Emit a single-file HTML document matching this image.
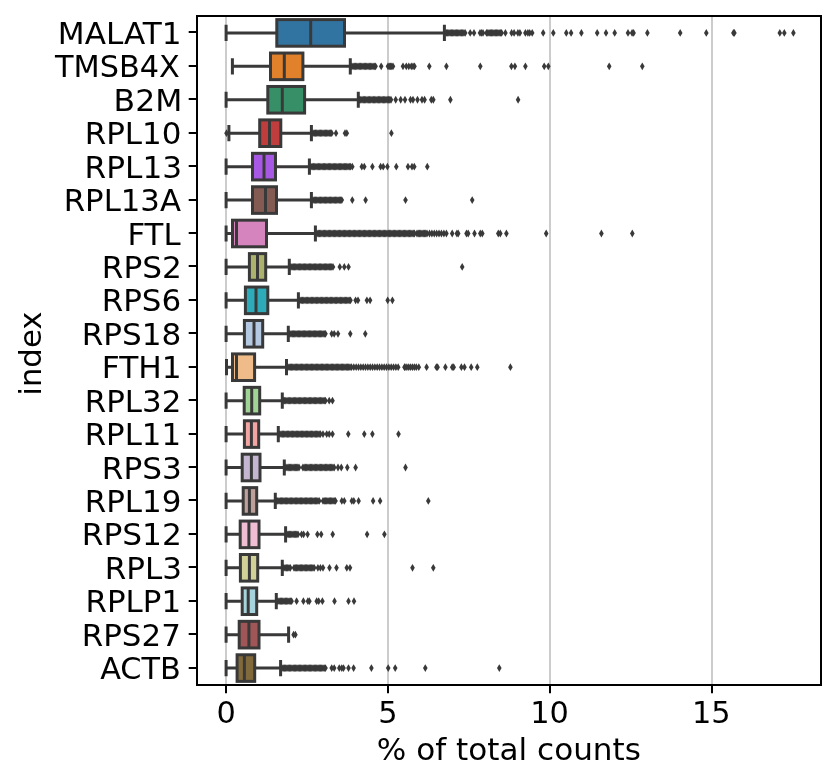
<!DOCTYPE html>
<html lang="en"><head><meta charset="utf-8"><title>highest expressed genes</title>
<style>html,body{margin:0;padding:0;background:#fff}svg{display:block}text{font-family:"DejaVu Sans","Liberation Sans",sans-serif;fill:#000}</style></head><body>
<svg width="837" height="783" viewBox="0 0 837 783">
<rect width="837" height="783" fill="#fff"/>
<defs><path id="d" d="M0,-3.9 L2.3,0 L0,3.9 L-2.3,0 Z"/></defs>
<g stroke="#cccccc" stroke-width="2">
<line x1="226" y1="16" x2="226" y2="685"/>
<line x1="388" y1="16" x2="388" y2="685"/>
<line x1="550" y1="16" x2="550" y2="685"/>
<line x1="712" y1="16" x2="712" y2="685"/>
</g>
<g stroke="#393939" stroke-width="3.0" fill="#393939">
<path fill="none" stroke-linecap="square" d="M226.1,32.91H276.8 M344.5,32.91H444.4 M226.1,26.31V39.51 M444.4,26.31V39.51"/>
<rect x="276.8" y="19.61" width="67.7" height="26.6" fill="#3274a1"/>
<path fill="none" stroke-linecap="square" d="M310.7,21.11V44.71"/>
</g>
<g fill="#393939"><use href="#d" x="446.4" y="32.91"/><use href="#d" x="447.65" y="32.91"/><use href="#d" x="448.91" y="32.91"/><use href="#d" x="450.16" y="32.91"/><use href="#d" x="451.41" y="32.91"/><use href="#d" x="452.67" y="32.91"/><use href="#d" x="453.92" y="32.91"/><use href="#d" x="455.17" y="32.91"/><use href="#d" x="456.43" y="32.91"/><use href="#d" x="457.68" y="32.91"/><use href="#d" x="458.93" y="32.91"/><use href="#d" x="460.19" y="32.91"/><use href="#d" x="461.44" y="32.91"/><use href="#d" x="462.69" y="32.91"/><use href="#d" x="463.95" y="32.91"/><use href="#d" x="465.2" y="32.91"/><use href="#d" x="470.2" y="32.91"/><use href="#d" x="474" y="32.91"/><use href="#d" x="480" y="32.91"/><use href="#d" x="481.5" y="32.91"/><use href="#d" x="483" y="32.91"/><use href="#d" x="486.5" y="32.91"/><use href="#d" x="487.76" y="32.91"/><use href="#d" x="489.02" y="32.91"/><use href="#d" x="490.27" y="32.91"/><use href="#d" x="491.53" y="32.91"/><use href="#d" x="492.79" y="32.91"/><use href="#d" x="494.05" y="32.91"/><use href="#d" x="495.31" y="32.91"/><use href="#d" x="496.57" y="32.91"/><use href="#d" x="497.83" y="32.91"/><use href="#d" x="499.08" y="32.91"/><use href="#d" x="500.34" y="32.91"/><use href="#d" x="501.6" y="32.91"/><use href="#d" x="505.4" y="32.91"/><use href="#d" x="511.6" y="32.91"/><use href="#d" x="514.1" y="32.91"/><use href="#d" x="517.9" y="32.91"/><use href="#d" x="519.9" y="32.91"/><use href="#d" x="525.4" y="32.91"/><use href="#d" x="527.9" y="32.91"/><use href="#d" x="529.7" y="32.91"/><use href="#d" x="532.2" y="32.91"/><use href="#d" x="543.2" y="32.91"/><use href="#d" x="553.3" y="32.91"/><use href="#d" x="566.3" y="32.91"/><use href="#d" x="571.1" y="32.91"/><use href="#d" x="581.4" y="32.91"/><use href="#d" x="597.2" y="32.91"/><use href="#d" x="606" y="32.91"/><use href="#d" x="614.7" y="32.91"/><use href="#d" x="628" y="32.91"/><use href="#d" x="632.1" y="32.91"/><use href="#d" x="633.6" y="32.91"/><use href="#d" x="647.4" y="32.91"/><use href="#d" x="680.2" y="32.91"/><use href="#d" x="706.3" y="32.91"/><use href="#d" x="733.4" y="32.91"/><use href="#d" x="734.4" y="32.91"/><use href="#d" x="779.8" y="32.91"/><use href="#d" x="784.3" y="32.91"/><use href="#d" x="793.4" y="32.91"/></g>
<g stroke="#393939" stroke-width="3.0" fill="#393939">
<path fill="none" stroke-linecap="square" d="M232.4,66.34H270.5 M302.9,66.34H350.3 M232.4,59.74V72.94 M350.3,59.74V72.94"/>
<rect x="270.5" y="53.04" width="32.4" height="26.6" fill="#e1812c"/>
<path fill="none" stroke-linecap="square" d="M284.3,54.54V78.14"/>
</g>
<g fill="#393939"><use href="#d" x="351.8" y="66.34"/><use href="#d" x="353.05" y="66.34"/><use href="#d" x="354.31" y="66.34"/><use href="#d" x="355.56" y="66.34"/><use href="#d" x="356.81" y="66.34"/><use href="#d" x="358.06" y="66.34"/><use href="#d" x="359.32" y="66.34"/><use href="#d" x="360.57" y="66.34"/><use href="#d" x="361.82" y="66.34"/><use href="#d" x="363.07" y="66.34"/><use href="#d" x="364.33" y="66.34"/><use href="#d" x="365.58" y="66.34"/><use href="#d" x="366.83" y="66.34"/><use href="#d" x="368.08" y="66.34"/><use href="#d" x="369.34" y="66.34"/><use href="#d" x="370.59" y="66.34"/><use href="#d" x="371.84" y="66.34"/><use href="#d" x="373.09" y="66.34"/><use href="#d" x="374.35" y="66.34"/><use href="#d" x="375.6" y="66.34"/><use href="#d" x="381.2" y="66.34"/><use href="#d" x="388" y="66.34"/><use href="#d" x="389.25" y="66.34"/><use href="#d" x="390.5" y="66.34"/><use href="#d" x="391.75" y="66.34"/><use href="#d" x="393" y="66.34"/><use href="#d" x="403" y="66.34"/><use href="#d" x="406.3" y="66.34"/><use href="#d" x="408.8" y="66.34"/><use href="#d" x="411.3" y="66.34"/><use href="#d" x="413" y="66.34"/><use href="#d" x="414.5" y="66.34"/><use href="#d" x="429.3" y="66.34"/><use href="#d" x="446.4" y="66.34"/><use href="#d" x="480.3" y="66.34"/><use href="#d" x="511.4" y="66.34"/><use href="#d" x="514.9" y="66.34"/><use href="#d" x="525.4" y="66.34"/><use href="#d" x="544.2" y="66.34"/><use href="#d" x="548.3" y="66.34"/><use href="#d" x="609.2" y="66.34"/><use href="#d" x="642.3" y="66.34"/></g>
<g stroke="#393939" stroke-width="3.0" fill="#393939">
<path fill="none" stroke-linecap="square" d="M226.1,99.77H267.8 M304.6,99.77H358.3 M226.1,93.17V106.37 M358.3,93.17V106.37"/>
<rect x="267.8" y="86.47" width="36.8" height="26.6" fill="#368f67"/>
<path fill="none" stroke-linecap="square" d="M282.3,87.97V111.57"/>
</g>
<g fill="#393939"><use href="#d" x="359.5" y="99.77"/><use href="#d" x="360.76" y="99.77"/><use href="#d" x="362.02" y="99.77"/><use href="#d" x="363.28" y="99.77"/><use href="#d" x="364.54" y="99.77"/><use href="#d" x="365.8" y="99.77"/><use href="#d" x="367.06" y="99.77"/><use href="#d" x="368.32" y="99.77"/><use href="#d" x="369.58" y="99.77"/><use href="#d" x="370.84" y="99.77"/><use href="#d" x="372.1" y="99.77"/><use href="#d" x="373.36" y="99.77"/><use href="#d" x="374.62" y="99.77"/><use href="#d" x="375.88" y="99.77"/><use href="#d" x="377.14" y="99.77"/><use href="#d" x="378.4" y="99.77"/><use href="#d" x="379.66" y="99.77"/><use href="#d" x="380.92" y="99.77"/><use href="#d" x="382.18" y="99.77"/><use href="#d" x="383.44" y="99.77"/><use href="#d" x="384.7" y="99.77"/><use href="#d" x="385.96" y="99.77"/><use href="#d" x="387.22" y="99.77"/><use href="#d" x="388.48" y="99.77"/><use href="#d" x="389.74" y="99.77"/><use href="#d" x="391" y="99.77"/><use href="#d" x="395.7" y="99.77"/><use href="#d" x="400.7" y="99.77"/><use href="#d" x="405" y="99.77"/><use href="#d" x="410.5" y="99.77"/><use href="#d" x="413" y="99.77"/><use href="#d" x="417.5" y="99.77"/><use href="#d" x="422" y="99.77"/><use href="#d" x="424.6" y="99.77"/><use href="#d" x="431.3" y="99.77"/><use href="#d" x="433.3" y="99.77"/><use href="#d" x="450.4" y="99.77"/><use href="#d" x="518.1" y="99.77"/></g>
<g stroke="#393939" stroke-width="3.0" fill="#393939">
<path fill="none" stroke-linecap="square" d="M228.9,133.2H259.7 M280.8,133.2H311.4 M228.9,126.6V139.8 M311.4,126.6V139.8"/>
<rect x="259.7" y="119.9" width="21.1" height="26.6" fill="#c03d3e"/>
<path fill="none" stroke-linecap="square" d="M269.5,121.4V145"/>
</g>
<g fill="#393939"><use href="#d" x="226.5" y="133.2"/><use href="#d" x="313" y="133.2"/><use href="#d" x="314.25" y="133.2"/><use href="#d" x="315.49" y="133.2"/><use href="#d" x="316.74" y="133.2"/><use href="#d" x="317.99" y="133.2"/><use href="#d" x="319.23" y="133.2"/><use href="#d" x="320.48" y="133.2"/><use href="#d" x="321.73" y="133.2"/><use href="#d" x="322.97" y="133.2"/><use href="#d" x="324.22" y="133.2"/><use href="#d" x="325.47" y="133.2"/><use href="#d" x="326.71" y="133.2"/><use href="#d" x="327.96" y="133.2"/><use href="#d" x="329.21" y="133.2"/><use href="#d" x="330.45" y="133.2"/><use href="#d" x="331.7" y="133.2"/><use href="#d" x="336" y="133.2"/><use href="#d" x="345" y="133.2"/><use href="#d" x="346.8" y="133.2"/><use href="#d" x="391.4" y="133.2"/></g>
<g stroke="#393939" stroke-width="3.0" fill="#393939">
<path fill="none" stroke-linecap="square" d="M226.1,166.63H252.5 M275.5,166.63H309.4 M226.1,160.03V173.23 M309.4,160.03V173.23"/>
<rect x="252.5" y="153.33" width="23" height="26.6" fill="#a758e4"/>
<path fill="none" stroke-linecap="square" d="M264,154.83V178.43"/>
</g>
<g fill="#393939"><use href="#d" x="311" y="166.63"/><use href="#d" x="312.23" y="166.63"/><use href="#d" x="313.47" y="166.63"/><use href="#d" x="314.7" y="166.63"/><use href="#d" x="315.94" y="166.63"/><use href="#d" x="317.17" y="166.63"/><use href="#d" x="318.41" y="166.63"/><use href="#d" x="319.64" y="166.63"/><use href="#d" x="320.88" y="166.63"/><use href="#d" x="322.11" y="166.63"/><use href="#d" x="323.34" y="166.63"/><use href="#d" x="324.58" y="166.63"/><use href="#d" x="325.81" y="166.63"/><use href="#d" x="327.05" y="166.63"/><use href="#d" x="328.28" y="166.63"/><use href="#d" x="329.52" y="166.63"/><use href="#d" x="330.75" y="166.63"/><use href="#d" x="331.98" y="166.63"/><use href="#d" x="333.22" y="166.63"/><use href="#d" x="334.45" y="166.63"/><use href="#d" x="335.69" y="166.63"/><use href="#d" x="336.92" y="166.63"/><use href="#d" x="338.16" y="166.63"/><use href="#d" x="339.39" y="166.63"/><use href="#d" x="340.62" y="166.63"/><use href="#d" x="341.86" y="166.63"/><use href="#d" x="343.09" y="166.63"/><use href="#d" x="344.33" y="166.63"/><use href="#d" x="345.56" y="166.63"/><use href="#d" x="346.8" y="166.63"/><use href="#d" x="348.03" y="166.63"/><use href="#d" x="349.27" y="166.63"/><use href="#d" x="350.5" y="166.63"/><use href="#d" x="352.3" y="166.63"/><use href="#d" x="361.8" y="166.63"/><use href="#d" x="364.3" y="166.63"/><use href="#d" x="372.4" y="166.63"/><use href="#d" x="380.6" y="166.63"/><use href="#d" x="383.2" y="166.63"/><use href="#d" x="387.4" y="166.63"/><use href="#d" x="396.3" y="166.63"/><use href="#d" x="408" y="166.63"/><use href="#d" x="412" y="166.63"/><use href="#d" x="414.3" y="166.63"/><use href="#d" x="427.3" y="166.63"/></g>
<g stroke="#393939" stroke-width="3.0" fill="#393939">
<path fill="none" stroke-linecap="square" d="M226.1,200.06H252.5 M276.5,200.06H311.4 M226.1,193.46V206.66 M311.4,193.46V206.66"/>
<rect x="252.5" y="186.76" width="24" height="26.6" fill="#845b53"/>
<path fill="none" stroke-linecap="square" d="M265.5,188.26V211.86"/>
</g>
<g fill="#393939"><use href="#d" x="313" y="200.06"/><use href="#d" x="314.25" y="200.06"/><use href="#d" x="315.5" y="200.06"/><use href="#d" x="316.76" y="200.06"/><use href="#d" x="318.01" y="200.06"/><use href="#d" x="319.26" y="200.06"/><use href="#d" x="320.51" y="200.06"/><use href="#d" x="321.77" y="200.06"/><use href="#d" x="323.02" y="200.06"/><use href="#d" x="324.27" y="200.06"/><use href="#d" x="325.52" y="200.06"/><use href="#d" x="326.77" y="200.06"/><use href="#d" x="328.03" y="200.06"/><use href="#d" x="329.28" y="200.06"/><use href="#d" x="330.53" y="200.06"/><use href="#d" x="331.78" y="200.06"/><use href="#d" x="333.03" y="200.06"/><use href="#d" x="334.29" y="200.06"/><use href="#d" x="335.54" y="200.06"/><use href="#d" x="336.79" y="200.06"/><use href="#d" x="338.04" y="200.06"/><use href="#d" x="339.3" y="200.06"/><use href="#d" x="340.55" y="200.06"/><use href="#d" x="341.8" y="200.06"/><use href="#d" x="352.3" y="200.06"/><use href="#d" x="365.6" y="200.06"/><use href="#d" x="405.5" y="200.06"/><use href="#d" x="472.2" y="200.06"/></g>
<g stroke="#393939" stroke-width="3.0" fill="#393939">
<path fill="none" stroke-linecap="square" d="M226.1,233.49H232.5 M266.5,233.49H315.4 M226.1,226.89V240.09 M315.4,226.89V240.09"/>
<rect x="232.5" y="220.19" width="34" height="26.6" fill="#d684bd"/>
<path fill="none" stroke-linecap="square" d="M236.5,221.69V245.29"/>
</g>
<g fill="#393939"><use href="#d" x="317" y="233.49"/><use href="#d" x="318.25" y="233.49"/><use href="#d" x="319.5" y="233.49"/><use href="#d" x="320.75" y="233.49"/><use href="#d" x="322" y="233.49"/><use href="#d" x="323.25" y="233.49"/><use href="#d" x="324.5" y="233.49"/><use href="#d" x="325.75" y="233.49"/><use href="#d" x="327" y="233.49"/><use href="#d" x="328.25" y="233.49"/><use href="#d" x="329.5" y="233.49"/><use href="#d" x="330.75" y="233.49"/><use href="#d" x="332" y="233.49"/><use href="#d" x="333.25" y="233.49"/><use href="#d" x="334.5" y="233.49"/><use href="#d" x="335.75" y="233.49"/><use href="#d" x="337" y="233.49"/><use href="#d" x="338.25" y="233.49"/><use href="#d" x="339.5" y="233.49"/><use href="#d" x="340.75" y="233.49"/><use href="#d" x="342" y="233.49"/><use href="#d" x="343.25" y="233.49"/><use href="#d" x="344.5" y="233.49"/><use href="#d" x="345.75" y="233.49"/><use href="#d" x="347" y="233.49"/><use href="#d" x="348.25" y="233.49"/><use href="#d" x="349.5" y="233.49"/><use href="#d" x="350.75" y="233.49"/><use href="#d" x="352" y="233.49"/><use href="#d" x="353.25" y="233.49"/><use href="#d" x="354.5" y="233.49"/><use href="#d" x="355.75" y="233.49"/><use href="#d" x="357" y="233.49"/><use href="#d" x="358.25" y="233.49"/><use href="#d" x="359.5" y="233.49"/><use href="#d" x="360.75" y="233.49"/><use href="#d" x="362" y="233.49"/><use href="#d" x="363.25" y="233.49"/><use href="#d" x="364.5" y="233.49"/><use href="#d" x="365.75" y="233.49"/><use href="#d" x="367" y="233.49"/><use href="#d" x="368.25" y="233.49"/><use href="#d" x="369.5" y="233.49"/><use href="#d" x="370.75" y="233.49"/><use href="#d" x="372" y="233.49"/><use href="#d" x="373.25" y="233.49"/><use href="#d" x="374.5" y="233.49"/><use href="#d" x="375.75" y="233.49"/><use href="#d" x="377" y="233.49"/><use href="#d" x="378.25" y="233.49"/><use href="#d" x="379.5" y="233.49"/><use href="#d" x="380.75" y="233.49"/><use href="#d" x="382" y="233.49"/><use href="#d" x="383.25" y="233.49"/><use href="#d" x="384.5" y="233.49"/><use href="#d" x="385.75" y="233.49"/><use href="#d" x="387" y="233.49"/><use href="#d" x="388.25" y="233.49"/><use href="#d" x="389.5" y="233.49"/><use href="#d" x="390.75" y="233.49"/><use href="#d" x="392" y="233.49"/><use href="#d" x="393.25" y="233.49"/><use href="#d" x="394.5" y="233.49"/><use href="#d" x="395.75" y="233.49"/><use href="#d" x="397" y="233.49"/><use href="#d" x="398.25" y="233.49"/><use href="#d" x="399.5" y="233.49"/><use href="#d" x="400.75" y="233.49"/><use href="#d" x="402" y="233.49"/><use href="#d" x="403.25" y="233.49"/><use href="#d" x="404.5" y="233.49"/><use href="#d" x="405.75" y="233.49"/><use href="#d" x="407" y="233.49"/><use href="#d" x="408.25" y="233.49"/><use href="#d" x="409.5" y="233.49"/><use href="#d" x="410.75" y="233.49"/><use href="#d" x="412" y="233.49"/><use href="#d" x="413.25" y="233.49"/><use href="#d" x="414.5" y="233.49"/><use href="#d" x="417" y="233.49"/><use href="#d" x="418.25" y="233.49"/><use href="#d" x="419.5" y="233.49"/><use href="#d" x="420.75" y="233.49"/><use href="#d" x="422" y="233.49"/><use href="#d" x="423.25" y="233.49"/><use href="#d" x="424.5" y="233.49"/><use href="#d" x="425.75" y="233.49"/><use href="#d" x="427" y="233.49"/><use href="#d" x="429.5" y="233.49"/><use href="#d" x="431.88" y="233.49"/><use href="#d" x="434.26" y="233.49"/><use href="#d" x="436.64" y="233.49"/><use href="#d" x="439.02" y="233.49"/><use href="#d" x="441.4" y="233.49"/><use href="#d" x="443.9" y="233.49"/><use href="#d" x="446.4" y="233.49"/><use href="#d" x="452.2" y="233.49"/><use href="#d" x="456.9" y="233.49"/><use href="#d" x="458.2" y="233.49"/><use href="#d" x="466.5" y="233.49"/><use href="#d" x="468.2" y="233.49"/><use href="#d" x="474.5" y="233.49"/><use href="#d" x="480.3" y="233.49"/><use href="#d" x="482.3" y="233.49"/><use href="#d" x="498.3" y="233.49"/><use href="#d" x="500.3" y="233.49"/><use href="#d" x="506.4" y="233.49"/><use href="#d" x="546.2" y="233.49"/><use href="#d" x="601.4" y="233.49"/><use href="#d" x="632.3" y="233.49"/></g>
<g stroke="#393939" stroke-width="3.0" fill="#393939">
<path fill="none" stroke-linecap="square" d="M226.1,266.92H249.4 M265.7,266.92H289.3 M226.1,260.32V273.52 M289.3,260.32V273.52"/>
<rect x="249.4" y="253.62" width="16.3" height="26.6" fill="#acb26d"/>
<path fill="none" stroke-linecap="square" d="M257.5,255.12V278.72"/>
</g>
<g fill="#393939"><use href="#d" x="290.8" y="266.92"/><use href="#d" x="292.04" y="266.92"/><use href="#d" x="293.28" y="266.92"/><use href="#d" x="294.52" y="266.92"/><use href="#d" x="295.76" y="266.92"/><use href="#d" x="297.01" y="266.92"/><use href="#d" x="298.25" y="266.92"/><use href="#d" x="299.49" y="266.92"/><use href="#d" x="300.73" y="266.92"/><use href="#d" x="301.97" y="266.92"/><use href="#d" x="303.21" y="266.92"/><use href="#d" x="304.45" y="266.92"/><use href="#d" x="305.69" y="266.92"/><use href="#d" x="306.94" y="266.92"/><use href="#d" x="308.18" y="266.92"/><use href="#d" x="309.42" y="266.92"/><use href="#d" x="310.66" y="266.92"/><use href="#d" x="311.9" y="266.92"/><use href="#d" x="313.14" y="266.92"/><use href="#d" x="314.38" y="266.92"/><use href="#d" x="315.62" y="266.92"/><use href="#d" x="316.86" y="266.92"/><use href="#d" x="318.11" y="266.92"/><use href="#d" x="319.35" y="266.92"/><use href="#d" x="320.59" y="266.92"/><use href="#d" x="321.83" y="266.92"/><use href="#d" x="323.07" y="266.92"/><use href="#d" x="324.31" y="266.92"/><use href="#d" x="325.55" y="266.92"/><use href="#d" x="326.79" y="266.92"/><use href="#d" x="328.04" y="266.92"/><use href="#d" x="329.28" y="266.92"/><use href="#d" x="330.52" y="266.92"/><use href="#d" x="331.76" y="266.92"/><use href="#d" x="333" y="266.92"/><use href="#d" x="339.8" y="266.92"/><use href="#d" x="344.3" y="266.92"/><use href="#d" x="348.5" y="266.92"/><use href="#d" x="462.2" y="266.92"/></g>
<g stroke="#393939" stroke-width="3.0" fill="#393939">
<path fill="none" stroke-linecap="square" d="M226.1,300.35H245.4 M267.8,300.35H298.4 M226.1,293.75V306.95 M298.4,293.75V306.95"/>
<rect x="245.4" y="287.05" width="22.4" height="26.6" fill="#2eabb8"/>
<path fill="none" stroke-linecap="square" d="M256,288.55V312.15"/>
</g>
<g fill="#393939"><use href="#d" x="300" y="300.35"/><use href="#d" x="301.26" y="300.35"/><use href="#d" x="302.52" y="300.35"/><use href="#d" x="303.79" y="300.35"/><use href="#d" x="305.05" y="300.35"/><use href="#d" x="306.31" y="300.35"/><use href="#d" x="307.57" y="300.35"/><use href="#d" x="308.84" y="300.35"/><use href="#d" x="310.1" y="300.35"/><use href="#d" x="311.36" y="300.35"/><use href="#d" x="312.62" y="300.35"/><use href="#d" x="313.89" y="300.35"/><use href="#d" x="315.15" y="300.35"/><use href="#d" x="316.41" y="300.35"/><use href="#d" x="317.68" y="300.35"/><use href="#d" x="318.94" y="300.35"/><use href="#d" x="320.2" y="300.35"/><use href="#d" x="321.46" y="300.35"/><use href="#d" x="322.73" y="300.35"/><use href="#d" x="323.99" y="300.35"/><use href="#d" x="325.25" y="300.35"/><use href="#d" x="326.51" y="300.35"/><use href="#d" x="327.77" y="300.35"/><use href="#d" x="329.04" y="300.35"/><use href="#d" x="330.3" y="300.35"/><use href="#d" x="331.56" y="300.35"/><use href="#d" x="332.82" y="300.35"/><use href="#d" x="334.09" y="300.35"/><use href="#d" x="335.35" y="300.35"/><use href="#d" x="336.61" y="300.35"/><use href="#d" x="337.88" y="300.35"/><use href="#d" x="339.14" y="300.35"/><use href="#d" x="340.4" y="300.35"/><use href="#d" x="341.66" y="300.35"/><use href="#d" x="342.93" y="300.35"/><use href="#d" x="344.19" y="300.35"/><use href="#d" x="345.45" y="300.35"/><use href="#d" x="346.71" y="300.35"/><use href="#d" x="347.98" y="300.35"/><use href="#d" x="349.24" y="300.35"/><use href="#d" x="350.5" y="300.35"/><use href="#d" x="355.6" y="300.35"/><use href="#d" x="358" y="300.35"/><use href="#d" x="366.9" y="300.35"/><use href="#d" x="370.1" y="300.35"/><use href="#d" x="387.7" y="300.35"/><use href="#d" x="392.4" y="300.35"/></g>
<g stroke="#393939" stroke-width="3.0" fill="#393939">
<path fill="none" stroke-linecap="square" d="M226.1,333.78H244.4 M262.7,333.78H288.3 M226.1,327.18V340.38 M288.3,327.18V340.38"/>
<rect x="244.4" y="320.48" width="18.3" height="26.6" fill="#b5c8e1"/>
<path fill="none" stroke-linecap="square" d="M254,321.98V345.58"/>
</g>
<g fill="#393939"><use href="#d" x="289.8" y="333.78"/><use href="#d" x="291.03" y="333.78"/><use href="#d" x="292.26" y="333.78"/><use href="#d" x="293.49" y="333.78"/><use href="#d" x="294.72" y="333.78"/><use href="#d" x="295.96" y="333.78"/><use href="#d" x="297.19" y="333.78"/><use href="#d" x="298.42" y="333.78"/><use href="#d" x="299.65" y="333.78"/><use href="#d" x="300.88" y="333.78"/><use href="#d" x="302.11" y="333.78"/><use href="#d" x="303.34" y="333.78"/><use href="#d" x="304.57" y="333.78"/><use href="#d" x="305.8" y="333.78"/><use href="#d" x="307.03" y="333.78"/><use href="#d" x="308.27" y="333.78"/><use href="#d" x="309.5" y="333.78"/><use href="#d" x="310.73" y="333.78"/><use href="#d" x="311.96" y="333.78"/><use href="#d" x="313.19" y="333.78"/><use href="#d" x="314.42" y="333.78"/><use href="#d" x="315.65" y="333.78"/><use href="#d" x="316.88" y="333.78"/><use href="#d" x="318.11" y="333.78"/><use href="#d" x="319.34" y="333.78"/><use href="#d" x="320.58" y="333.78"/><use href="#d" x="321.81" y="333.78"/><use href="#d" x="323.04" y="333.78"/><use href="#d" x="324.27" y="333.78"/><use href="#d" x="325.5" y="333.78"/><use href="#d" x="331.7" y="333.78"/><use href="#d" x="334.2" y="333.78"/><use href="#d" x="338" y="333.78"/><use href="#d" x="350.3" y="333.78"/><use href="#d" x="365.3" y="333.78"/></g>
<g stroke="#393939" stroke-width="3.0" fill="#393939">
<path fill="none" stroke-linecap="square" d="M226.5,367.21H232.5 M254.6,367.21H286.5 M226.5,360.61V373.81 M286.5,360.61V373.81"/>
<rect x="232.5" y="353.91" width="22.1" height="26.6" fill="#eebb89"/>
<path fill="none" stroke-linecap="square" d="M236.5,355.41V379.01"/>
</g>
<g fill="#393939"><use href="#d" x="287.8" y="367.21"/><use href="#d" x="289.04" y="367.21"/><use href="#d" x="290.29" y="367.21"/><use href="#d" x="291.53" y="367.21"/><use href="#d" x="292.78" y="367.21"/><use href="#d" x="294.02" y="367.21"/><use href="#d" x="295.26" y="367.21"/><use href="#d" x="296.51" y="367.21"/><use href="#d" x="297.75" y="367.21"/><use href="#d" x="299" y="367.21"/><use href="#d" x="300.24" y="367.21"/><use href="#d" x="301.48" y="367.21"/><use href="#d" x="302.73" y="367.21"/><use href="#d" x="303.97" y="367.21"/><use href="#d" x="305.22" y="367.21"/><use href="#d" x="306.46" y="367.21"/><use href="#d" x="307.7" y="367.21"/><use href="#d" x="308.95" y="367.21"/><use href="#d" x="310.19" y="367.21"/><use href="#d" x="311.44" y="367.21"/><use href="#d" x="312.68" y="367.21"/><use href="#d" x="313.92" y="367.21"/><use href="#d" x="315.17" y="367.21"/><use href="#d" x="316.41" y="367.21"/><use href="#d" x="317.66" y="367.21"/><use href="#d" x="318.9" y="367.21"/><use href="#d" x="320.14" y="367.21"/><use href="#d" x="321.39" y="367.21"/><use href="#d" x="322.63" y="367.21"/><use href="#d" x="323.88" y="367.21"/><use href="#d" x="325.12" y="367.21"/><use href="#d" x="326.36" y="367.21"/><use href="#d" x="327.61" y="367.21"/><use href="#d" x="328.85" y="367.21"/><use href="#d" x="330.1" y="367.21"/><use href="#d" x="331.34" y="367.21"/><use href="#d" x="332.58" y="367.21"/><use href="#d" x="333.83" y="367.21"/><use href="#d" x="335.07" y="367.21"/><use href="#d" x="336.32" y="367.21"/><use href="#d" x="337.56" y="367.21"/><use href="#d" x="338.8" y="367.21"/><use href="#d" x="340.05" y="367.21"/><use href="#d" x="341.29" y="367.21"/><use href="#d" x="342.54" y="367.21"/><use href="#d" x="343.78" y="367.21"/><use href="#d" x="345.02" y="367.21"/><use href="#d" x="346.27" y="367.21"/><use href="#d" x="347.51" y="367.21"/><use href="#d" x="348.76" y="367.21"/><use href="#d" x="350" y="367.21"/><use href="#d" x="351.5" y="367.21"/><use href="#d" x="353.83" y="367.21"/><use href="#d" x="356.17" y="367.21"/><use href="#d" x="358.5" y="367.21"/><use href="#d" x="360.84" y="367.21"/><use href="#d" x="363.18" y="367.21"/><use href="#d" x="365.51" y="367.21"/><use href="#d" x="367.84" y="367.21"/><use href="#d" x="370.18" y="367.21"/><use href="#d" x="372.51" y="367.21"/><use href="#d" x="374.85" y="367.21"/><use href="#d" x="377.19" y="367.21"/><use href="#d" x="379.52" y="367.21"/><use href="#d" x="381.86" y="367.21"/><use href="#d" x="384.19" y="367.21"/><use href="#d" x="386.52" y="367.21"/><use href="#d" x="388.86" y="367.21"/><use href="#d" x="391.19" y="367.21"/><use href="#d" x="393.53" y="367.21"/><use href="#d" x="395.87" y="367.21"/><use href="#d" x="398.2" y="367.21"/><use href="#d" x="404.5" y="367.21"/><use href="#d" x="405" y="367.21"/><use href="#d" x="406.88" y="367.21"/><use href="#d" x="408.77" y="367.21"/><use href="#d" x="410.65" y="367.21"/><use href="#d" x="412.53" y="367.21"/><use href="#d" x="414.42" y="367.21"/><use href="#d" x="416.3" y="367.21"/><use href="#d" x="418.8" y="367.21"/><use href="#d" x="426.6" y="367.21"/><use href="#d" x="436.4" y="367.21"/><use href="#d" x="437.6" y="367.21"/><use href="#d" x="445.4" y="367.21"/><use href="#d" x="452.2" y="367.21"/><use href="#d" x="453.7" y="367.21"/><use href="#d" x="461.4" y="367.21"/><use href="#d" x="464.5" y="367.21"/><use href="#d" x="471.2" y="367.21"/><use href="#d" x="477.3" y="367.21"/><use href="#d" x="510.4" y="367.21"/></g>
<g stroke="#393939" stroke-width="3.0" fill="#393939">
<path fill="none" stroke-linecap="square" d="M226.1,400.64H244.2 M259.7,400.64H282.3 M226.1,394.04V407.24 M282.3,394.04V407.24"/>
<rect x="244.2" y="387.34" width="15.5" height="26.6" fill="#9fd495"/>
<path fill="none" stroke-linecap="square" d="M251.7,388.84V412.44"/>
</g>
<g fill="#393939"><use href="#d" x="283.3" y="400.64"/><use href="#d" x="284.54" y="400.64"/><use href="#d" x="285.78" y="400.64"/><use href="#d" x="287.02" y="400.64"/><use href="#d" x="288.26" y="400.64"/><use href="#d" x="289.51" y="400.64"/><use href="#d" x="290.75" y="400.64"/><use href="#d" x="291.99" y="400.64"/><use href="#d" x="293.23" y="400.64"/><use href="#d" x="294.47" y="400.64"/><use href="#d" x="295.71" y="400.64"/><use href="#d" x="296.95" y="400.64"/><use href="#d" x="298.19" y="400.64"/><use href="#d" x="299.44" y="400.64"/><use href="#d" x="300.68" y="400.64"/><use href="#d" x="301.92" y="400.64"/><use href="#d" x="303.16" y="400.64"/><use href="#d" x="304.4" y="400.64"/><use href="#d" x="305.64" y="400.64"/><use href="#d" x="306.88" y="400.64"/><use href="#d" x="308.12" y="400.64"/><use href="#d" x="309.36" y="400.64"/><use href="#d" x="310.61" y="400.64"/><use href="#d" x="311.85" y="400.64"/><use href="#d" x="313.09" y="400.64"/><use href="#d" x="314.33" y="400.64"/><use href="#d" x="315.57" y="400.64"/><use href="#d" x="316.81" y="400.64"/><use href="#d" x="318.05" y="400.64"/><use href="#d" x="319.29" y="400.64"/><use href="#d" x="320.54" y="400.64"/><use href="#d" x="321.78" y="400.64"/><use href="#d" x="323.02" y="400.64"/><use href="#d" x="324.26" y="400.64"/><use href="#d" x="325.5" y="400.64"/><use href="#d" x="329.2" y="400.64"/><use href="#d" x="332.5" y="400.64"/></g>
<g stroke="#393939" stroke-width="3.0" fill="#393939">
<path fill="none" stroke-linecap="square" d="M226.1,434.07H244.4 M258.7,434.07H278.3 M226.1,427.47V440.67 M278.3,427.47V440.67"/>
<rect x="244.4" y="420.77" width="14.3" height="26.6" fill="#f2a5a3"/>
<path fill="none" stroke-linecap="square" d="M251.4,422.27V445.87"/>
</g>
<g fill="#393939"><use href="#d" x="279.8" y="434.07"/><use href="#d" x="281.07" y="434.07"/><use href="#d" x="282.34" y="434.07"/><use href="#d" x="283.61" y="434.07"/><use href="#d" x="284.88" y="434.07"/><use href="#d" x="286.14" y="434.07"/><use href="#d" x="287.41" y="434.07"/><use href="#d" x="288.68" y="434.07"/><use href="#d" x="289.95" y="434.07"/><use href="#d" x="291.22" y="434.07"/><use href="#d" x="292.49" y="434.07"/><use href="#d" x="293.76" y="434.07"/><use href="#d" x="295.02" y="434.07"/><use href="#d" x="296.29" y="434.07"/><use href="#d" x="297.56" y="434.07"/><use href="#d" x="298.83" y="434.07"/><use href="#d" x="300.1" y="434.07"/><use href="#d" x="301.37" y="434.07"/><use href="#d" x="302.64" y="434.07"/><use href="#d" x="303.91" y="434.07"/><use href="#d" x="305.18" y="434.07"/><use href="#d" x="306.44" y="434.07"/><use href="#d" x="307.71" y="434.07"/><use href="#d" x="308.98" y="434.07"/><use href="#d" x="310.25" y="434.07"/><use href="#d" x="311.52" y="434.07"/><use href="#d" x="312.79" y="434.07"/><use href="#d" x="314.06" y="434.07"/><use href="#d" x="315.32" y="434.07"/><use href="#d" x="316.59" y="434.07"/><use href="#d" x="317.86" y="434.07"/><use href="#d" x="319.13" y="434.07"/><use href="#d" x="320.4" y="434.07"/><use href="#d" x="323" y="434.07"/><use href="#d" x="326.7" y="434.07"/><use href="#d" x="329.2" y="434.07"/><use href="#d" x="332.5" y="434.07"/><use href="#d" x="348.3" y="434.07"/><use href="#d" x="364.3" y="434.07"/><use href="#d" x="372.4" y="434.07"/><use href="#d" x="398.5" y="434.07"/></g>
<g stroke="#393939" stroke-width="3.0" fill="#393939">
<path fill="none" stroke-linecap="square" d="M226.1,467.5H242.2 M260,467.5H284.3 M226.1,460.9V474.1 M284.3,460.9V474.1"/>
<rect x="242.2" y="454.2" width="17.8" height="26.6" fill="#c4b5d0"/>
<path fill="none" stroke-linecap="square" d="M251.4,455.7V479.3"/>
</g>
<g fill="#393939"><use href="#d" x="285.8" y="467.5"/><use href="#d" x="287" y="467.5"/><use href="#d" x="288.2" y="467.5"/><use href="#d" x="289.4" y="467.5"/><use href="#d" x="290.6" y="467.5"/><use href="#d" x="291.8" y="467.5"/><use href="#d" x="293" y="467.5"/><use href="#d" x="294.2" y="467.5"/><use href="#d" x="295.4" y="467.5"/><use href="#d" x="296.6" y="467.5"/><use href="#d" x="297.8" y="467.5"/><use href="#d" x="299" y="467.5"/><use href="#d" x="302.9" y="467.5"/><use href="#d" x="304.15" y="467.5"/><use href="#d" x="305.4" y="467.5"/><use href="#d" x="306.66" y="467.5"/><use href="#d" x="307.91" y="467.5"/><use href="#d" x="309.16" y="467.5"/><use href="#d" x="310.41" y="467.5"/><use href="#d" x="311.66" y="467.5"/><use href="#d" x="312.92" y="467.5"/><use href="#d" x="314.17" y="467.5"/><use href="#d" x="315.42" y="467.5"/><use href="#d" x="316.67" y="467.5"/><use href="#d" x="317.92" y="467.5"/><use href="#d" x="319.18" y="467.5"/><use href="#d" x="320.43" y="467.5"/><use href="#d" x="321.68" y="467.5"/><use href="#d" x="322.93" y="467.5"/><use href="#d" x="324.18" y="467.5"/><use href="#d" x="325.44" y="467.5"/><use href="#d" x="326.69" y="467.5"/><use href="#d" x="327.94" y="467.5"/><use href="#d" x="329.19" y="467.5"/><use href="#d" x="330.44" y="467.5"/><use href="#d" x="331.7" y="467.5"/><use href="#d" x="332.95" y="467.5"/><use href="#d" x="334.2" y="467.5"/><use href="#d" x="338" y="467.5"/><use href="#d" x="341.3" y="467.5"/><use href="#d" x="347.3" y="467.5"/><use href="#d" x="355.6" y="467.5"/><use href="#d" x="405.5" y="467.5"/></g>
<g stroke="#393939" stroke-width="3.0" fill="#393939">
<path fill="none" stroke-linecap="square" d="M226.1,500.93H243.2 M256.7,500.93H275.3 M226.1,494.33V507.53 M275.3,494.33V507.53"/>
<rect x="243.2" y="487.63" width="13.5" height="26.6" fill="#bea09a"/>
<path fill="none" stroke-linecap="square" d="M249.4,489.13V512.73"/>
</g>
<g fill="#393939"><use href="#d" x="276.5" y="500.93"/><use href="#d" x="277.76" y="500.93"/><use href="#d" x="279.01" y="500.93"/><use href="#d" x="280.27" y="500.93"/><use href="#d" x="281.52" y="500.93"/><use href="#d" x="282.78" y="500.93"/><use href="#d" x="284.04" y="500.93"/><use href="#d" x="285.29" y="500.93"/><use href="#d" x="286.55" y="500.93"/><use href="#d" x="287.8" y="500.93"/><use href="#d" x="289.06" y="500.93"/><use href="#d" x="290.31" y="500.93"/><use href="#d" x="291.57" y="500.93"/><use href="#d" x="292.83" y="500.93"/><use href="#d" x="294.08" y="500.93"/><use href="#d" x="295.34" y="500.93"/><use href="#d" x="296.59" y="500.93"/><use href="#d" x="297.85" y="500.93"/><use href="#d" x="299.11" y="500.93"/><use href="#d" x="300.36" y="500.93"/><use href="#d" x="301.62" y="500.93"/><use href="#d" x="302.87" y="500.93"/><use href="#d" x="304.13" y="500.93"/><use href="#d" x="305.39" y="500.93"/><use href="#d" x="306.64" y="500.93"/><use href="#d" x="307.9" y="500.93"/><use href="#d" x="309.15" y="500.93"/><use href="#d" x="310.41" y="500.93"/><use href="#d" x="311.66" y="500.93"/><use href="#d" x="312.92" y="500.93"/><use href="#d" x="314.18" y="500.93"/><use href="#d" x="315.43" y="500.93"/><use href="#d" x="316.69" y="500.93"/><use href="#d" x="317.94" y="500.93"/><use href="#d" x="319.2" y="500.93"/><use href="#d" x="323" y="500.93"/><use href="#d" x="324.25" y="500.93"/><use href="#d" x="325.5" y="500.93"/><use href="#d" x="326.75" y="500.93"/><use href="#d" x="328" y="500.93"/><use href="#d" x="329.25" y="500.93"/><use href="#d" x="330.5" y="500.93"/><use href="#d" x="331.75" y="500.93"/><use href="#d" x="333" y="500.93"/><use href="#d" x="334.25" y="500.93"/><use href="#d" x="335.5" y="500.93"/><use href="#d" x="341.8" y="500.93"/><use href="#d" x="344.3" y="500.93"/><use href="#d" x="351.8" y="500.93"/><use href="#d" x="353.8" y="500.93"/><use href="#d" x="358.6" y="500.93"/><use href="#d" x="373.1" y="500.93"/><use href="#d" x="380.1" y="500.93"/><use href="#d" x="428.3" y="500.93"/></g>
<g stroke="#393939" stroke-width="3.0" fill="#393939">
<path fill="none" stroke-linecap="square" d="M226.1,534.36H240.2 M259,534.36H285.6 M226.1,527.76V540.96 M285.6,527.76V540.96"/>
<rect x="240.2" y="521.06" width="18.8" height="26.6" fill="#efbed3"/>
<path fill="none" stroke-linecap="square" d="M248.9,522.56V546.16"/>
</g>
<g fill="#393939"><use href="#d" x="287" y="534.36"/><use href="#d" x="288.22" y="534.36"/><use href="#d" x="289.44" y="534.36"/><use href="#d" x="290.67" y="534.36"/><use href="#d" x="291.89" y="534.36"/><use href="#d" x="293.11" y="534.36"/><use href="#d" x="294.33" y="534.36"/><use href="#d" x="295.56" y="534.36"/><use href="#d" x="296.78" y="534.36"/><use href="#d" x="298" y="534.36"/><use href="#d" x="301.6" y="534.36"/><use href="#d" x="303.6" y="534.36"/><use href="#d" x="307.6" y="534.36"/><use href="#d" x="317.4" y="534.36"/><use href="#d" x="321.2" y="534.36"/><use href="#d" x="332.7" y="534.36"/><use href="#d" x="367.1" y="534.36"/><use href="#d" x="384.4" y="534.36"/></g>
<g stroke="#393939" stroke-width="3.0" fill="#393939">
<path fill="none" stroke-linecap="square" d="M226.1,567.79H240.4 M257.7,567.79H282.3 M226.1,561.19V574.39 M282.3,561.19V574.39"/>
<rect x="240.4" y="554.5" width="17.3" height="26.6" fill="#d1d197"/>
<path fill="none" stroke-linecap="square" d="M249.4,556V579.59"/>
</g>
<g fill="#393939"><use href="#d" x="283.8" y="567.79"/><use href="#d" x="285.1" y="567.79"/><use href="#d" x="286.4" y="567.79"/><use href="#d" x="287.7" y="567.79"/><use href="#d" x="289" y="567.79"/><use href="#d" x="290.3" y="567.79"/><use href="#d" x="294" y="567.79"/><use href="#d" x="295.26" y="567.79"/><use href="#d" x="296.52" y="567.79"/><use href="#d" x="297.79" y="567.79"/><use href="#d" x="299.05" y="567.79"/><use href="#d" x="300.31" y="567.79"/><use href="#d" x="301.57" y="567.79"/><use href="#d" x="302.84" y="567.79"/><use href="#d" x="304.1" y="567.79"/><use href="#d" x="305.36" y="567.79"/><use href="#d" x="306.62" y="567.79"/><use href="#d" x="307.89" y="567.79"/><use href="#d" x="309.15" y="567.79"/><use href="#d" x="310.41" y="567.79"/><use href="#d" x="311.68" y="567.79"/><use href="#d" x="312.94" y="567.79"/><use href="#d" x="314.2" y="567.79"/><use href="#d" x="317.9" y="567.79"/><use href="#d" x="320.4" y="567.79"/><use href="#d" x="323" y="567.79"/><use href="#d" x="329.5" y="567.79"/><use href="#d" x="336.5" y="567.79"/><use href="#d" x="346.8" y="567.79"/><use href="#d" x="350" y="567.79"/><use href="#d" x="412.5" y="567.79"/><use href="#d" x="433.3" y="567.79"/></g>
<g stroke="#393939" stroke-width="3.0" fill="#393939">
<path fill="none" stroke-linecap="square" d="M226.1,601.22H242.2 M256.7,601.22H276.3 M226.1,594.62V607.82 M276.3,594.62V607.82"/>
<rect x="242.2" y="587.92" width="14.5" height="26.6" fill="#a7d4dc"/>
<path fill="none" stroke-linecap="square" d="M248.2,589.42V613.02"/>
</g>
<g fill="#393939"><use href="#d" x="277.8" y="601.22"/><use href="#d" x="279.05" y="601.22"/><use href="#d" x="280.31" y="601.22"/><use href="#d" x="281.56" y="601.22"/><use href="#d" x="282.82" y="601.22"/><use href="#d" x="284.07" y="601.22"/><use href="#d" x="285.33" y="601.22"/><use href="#d" x="286.58" y="601.22"/><use href="#d" x="287.84" y="601.22"/><use href="#d" x="289.09" y="601.22"/><use href="#d" x="290.35" y="601.22"/><use href="#d" x="291.6" y="601.22"/><use href="#d" x="296.6" y="601.22"/><use href="#d" x="303.4" y="601.22"/><use href="#d" x="307.9" y="601.22"/><use href="#d" x="309.4" y="601.22"/><use href="#d" x="316.7" y="601.22"/><use href="#d" x="318.7" y="601.22"/><use href="#d" x="322.4" y="601.22"/><use href="#d" x="334.5" y="601.22"/><use href="#d" x="348.5" y="601.22"/><use href="#d" x="354" y="601.22"/></g>
<g stroke="#393939" stroke-width="3.0" fill="#393939">
<path fill="none" stroke-linecap="square" d="M226.1,634.65H239.2 M259,634.65H288.6 M226.1,628.05V641.25 M288.6,628.05V641.25"/>
<rect x="239.2" y="621.35" width="19.8" height="26.6" fill="#a05656"/>
<path fill="none" stroke-linecap="square" d="M248.9,622.85V646.45"/>
</g>
<g fill="#393939"><use href="#d" x="293.6" y="634.65"/><use href="#d" x="295.4" y="634.65"/></g>
<g stroke="#393939" stroke-width="3.0" fill="#393939">
<path fill="none" stroke-linecap="square" d="M226.1,668.08H237.1 M254.7,668.08H280.6 M226.1,661.48V674.68 M280.6,661.48V674.68"/>
<rect x="237.1" y="654.78" width="17.6" height="26.6" fill="#81693c"/>
<path fill="none" stroke-linecap="square" d="M244.4,656.28V679.88"/>
</g>
<g fill="#393939"><use href="#d" x="282" y="668.08"/><use href="#d" x="283.24" y="668.08"/><use href="#d" x="284.49" y="668.08"/><use href="#d" x="285.73" y="668.08"/><use href="#d" x="286.97" y="668.08"/><use href="#d" x="288.21" y="668.08"/><use href="#d" x="289.46" y="668.08"/><use href="#d" x="290.7" y="668.08"/><use href="#d" x="291.94" y="668.08"/><use href="#d" x="293.19" y="668.08"/><use href="#d" x="294.43" y="668.08"/><use href="#d" x="295.67" y="668.08"/><use href="#d" x="296.91" y="668.08"/><use href="#d" x="298.16" y="668.08"/><use href="#d" x="299.4" y="668.08"/><use href="#d" x="300.64" y="668.08"/><use href="#d" x="301.89" y="668.08"/><use href="#d" x="303.13" y="668.08"/><use href="#d" x="304.37" y="668.08"/><use href="#d" x="305.61" y="668.08"/><use href="#d" x="306.86" y="668.08"/><use href="#d" x="308.1" y="668.08"/><use href="#d" x="309.34" y="668.08"/><use href="#d" x="310.59" y="668.08"/><use href="#d" x="311.83" y="668.08"/><use href="#d" x="313.07" y="668.08"/><use href="#d" x="314.31" y="668.08"/><use href="#d" x="315.56" y="668.08"/><use href="#d" x="316.8" y="668.08"/><use href="#d" x="318.04" y="668.08"/><use href="#d" x="319.29" y="668.08"/><use href="#d" x="320.53" y="668.08"/><use href="#d" x="321.77" y="668.08"/><use href="#d" x="323.01" y="668.08"/><use href="#d" x="324.26" y="668.08"/><use href="#d" x="325.5" y="668.08"/><use href="#d" x="331.7" y="668.08"/><use href="#d" x="334.2" y="668.08"/><use href="#d" x="339.3" y="668.08"/><use href="#d" x="341.8" y="668.08"/><use href="#d" x="343.5" y="668.08"/><use href="#d" x="348.5" y="668.08"/><use href="#d" x="353.6" y="668.08"/><use href="#d" x="371.4" y="668.08"/><use href="#d" x="388.2" y="668.08"/><use href="#d" x="395.2" y="668.08"/><use href="#d" x="425.3" y="668.08"/><use href="#d" x="499.3" y="668.08"/></g>
<rect x="197" y="16" width="624" height="669" fill="none" stroke="#000" stroke-width="2"/>
<g stroke="#000" stroke-width="2">
<line x1="188.7" y1="32" x2="197" y2="32"/>
<line x1="188.7" y1="66" x2="197" y2="66"/>
<line x1="188.7" y1="99" x2="197" y2="99"/>
<line x1="188.7" y1="133" x2="197" y2="133"/>
<line x1="188.7" y1="166" x2="197" y2="166"/>
<line x1="188.7" y1="200" x2="197" y2="200"/>
<line x1="188.7" y1="233" x2="197" y2="233"/>
<line x1="188.7" y1="266" x2="197" y2="266"/>
<line x1="188.7" y1="300" x2="197" y2="300"/>
<line x1="188.7" y1="333" x2="197" y2="333"/>
<line x1="188.7" y1="367" x2="197" y2="367"/>
<line x1="188.7" y1="400" x2="197" y2="400"/>
<line x1="188.7" y1="434" x2="197" y2="434"/>
<line x1="188.7" y1="467" x2="197" y2="467"/>
<line x1="188.7" y1="500" x2="197" y2="500"/>
<line x1="188.7" y1="534" x2="197" y2="534"/>
<line x1="188.7" y1="567" x2="197" y2="567"/>
<line x1="188.7" y1="601" x2="197" y2="601"/>
<line x1="188.7" y1="634" x2="197" y2="634"/>
<line x1="188.7" y1="668" x2="197" y2="668"/>
<line x1="226" y1="685" x2="226" y2="693.3"/>
<line x1="388" y1="685" x2="388" y2="693.3"/>
<line x1="550" y1="685" x2="550" y2="693.3"/>
<line x1="712" y1="685" x2="712" y2="693.3"/>
</g>
<g font-size="30.4">
<text x="57.86" y="44" textLength="123.79" lengthAdjust="spacingAndGlyphs">MALAT1</text>
<text x="55.1" y="77" textLength="124.81" lengthAdjust="spacingAndGlyphs">TMSB4X</text>
<text x="113.57" y="111" textLength="68.69" lengthAdjust="spacingAndGlyphs">B2M</text>
<text x="84.65" y="144" textLength="96.78" lengthAdjust="spacingAndGlyphs">RPL10</text>
<text x="84.59" y="178" textLength="97.47" lengthAdjust="spacingAndGlyphs">RPL13</text>
<text x="63.76" y="211" textLength="117.21" lengthAdjust="spacingAndGlyphs">RPL13A</text>
<text x="127.43" y="245" textLength="53.13" lengthAdjust="spacingAndGlyphs">FTL</text>
<text x="101.85" y="278" textLength="80.08" lengthAdjust="spacingAndGlyphs">RPS2</text>
<text x="101.7" y="311" textLength="79.5" lengthAdjust="spacingAndGlyphs">RPS6</text>
<text x="81.73" y="345" textLength="99.66" lengthAdjust="spacingAndGlyphs">RPS18</text>
<text x="101.82" y="378" textLength="79.9" lengthAdjust="spacingAndGlyphs">FTH1</text>
<text x="84.71" y="412" textLength="96.58" lengthAdjust="spacingAndGlyphs">RPL32</text>
<text x="84.73" y="445" textLength="96.32" lengthAdjust="spacingAndGlyphs">RPL11</text>
<text x="101.88" y="479" textLength="79.97" lengthAdjust="spacingAndGlyphs">RPS3</text>
<text x="84.71" y="512" textLength="96.78" lengthAdjust="spacingAndGlyphs">RPL19</text>
<text x="81.69" y="545" textLength="100.18" lengthAdjust="spacingAndGlyphs">RPS12</text>
<text x="104.83" y="579" textLength="77.24" lengthAdjust="spacingAndGlyphs">RPL3</text>
<text x="85.51" y="612" textLength="95.56" lengthAdjust="spacingAndGlyphs">RPLP1</text>
<text x="81.74" y="646" textLength="99.13" lengthAdjust="spacingAndGlyphs">RPS27</text>
<text x="100.13" y="679" textLength="80.77" lengthAdjust="spacingAndGlyphs">ACTB</text>
</g>
<g font-size="30.4" text-anchor="middle">
<text x="226.1" y="722.5">0</text>
<text x="387.85" y="722.5">5</text>
<text x="549.6" y="722.5">10</text>
<text x="711.35" y="722.5">15</text>
<text x="508.9" y="760.4" textLength="264.1" lengthAdjust="spacingAndGlyphs">% of total counts</text>
<text transform="translate(41.2,353.6) rotate(-90)" textLength="84.1" lengthAdjust="spacingAndGlyphs">index</text>
</g>
</svg></body></html>
